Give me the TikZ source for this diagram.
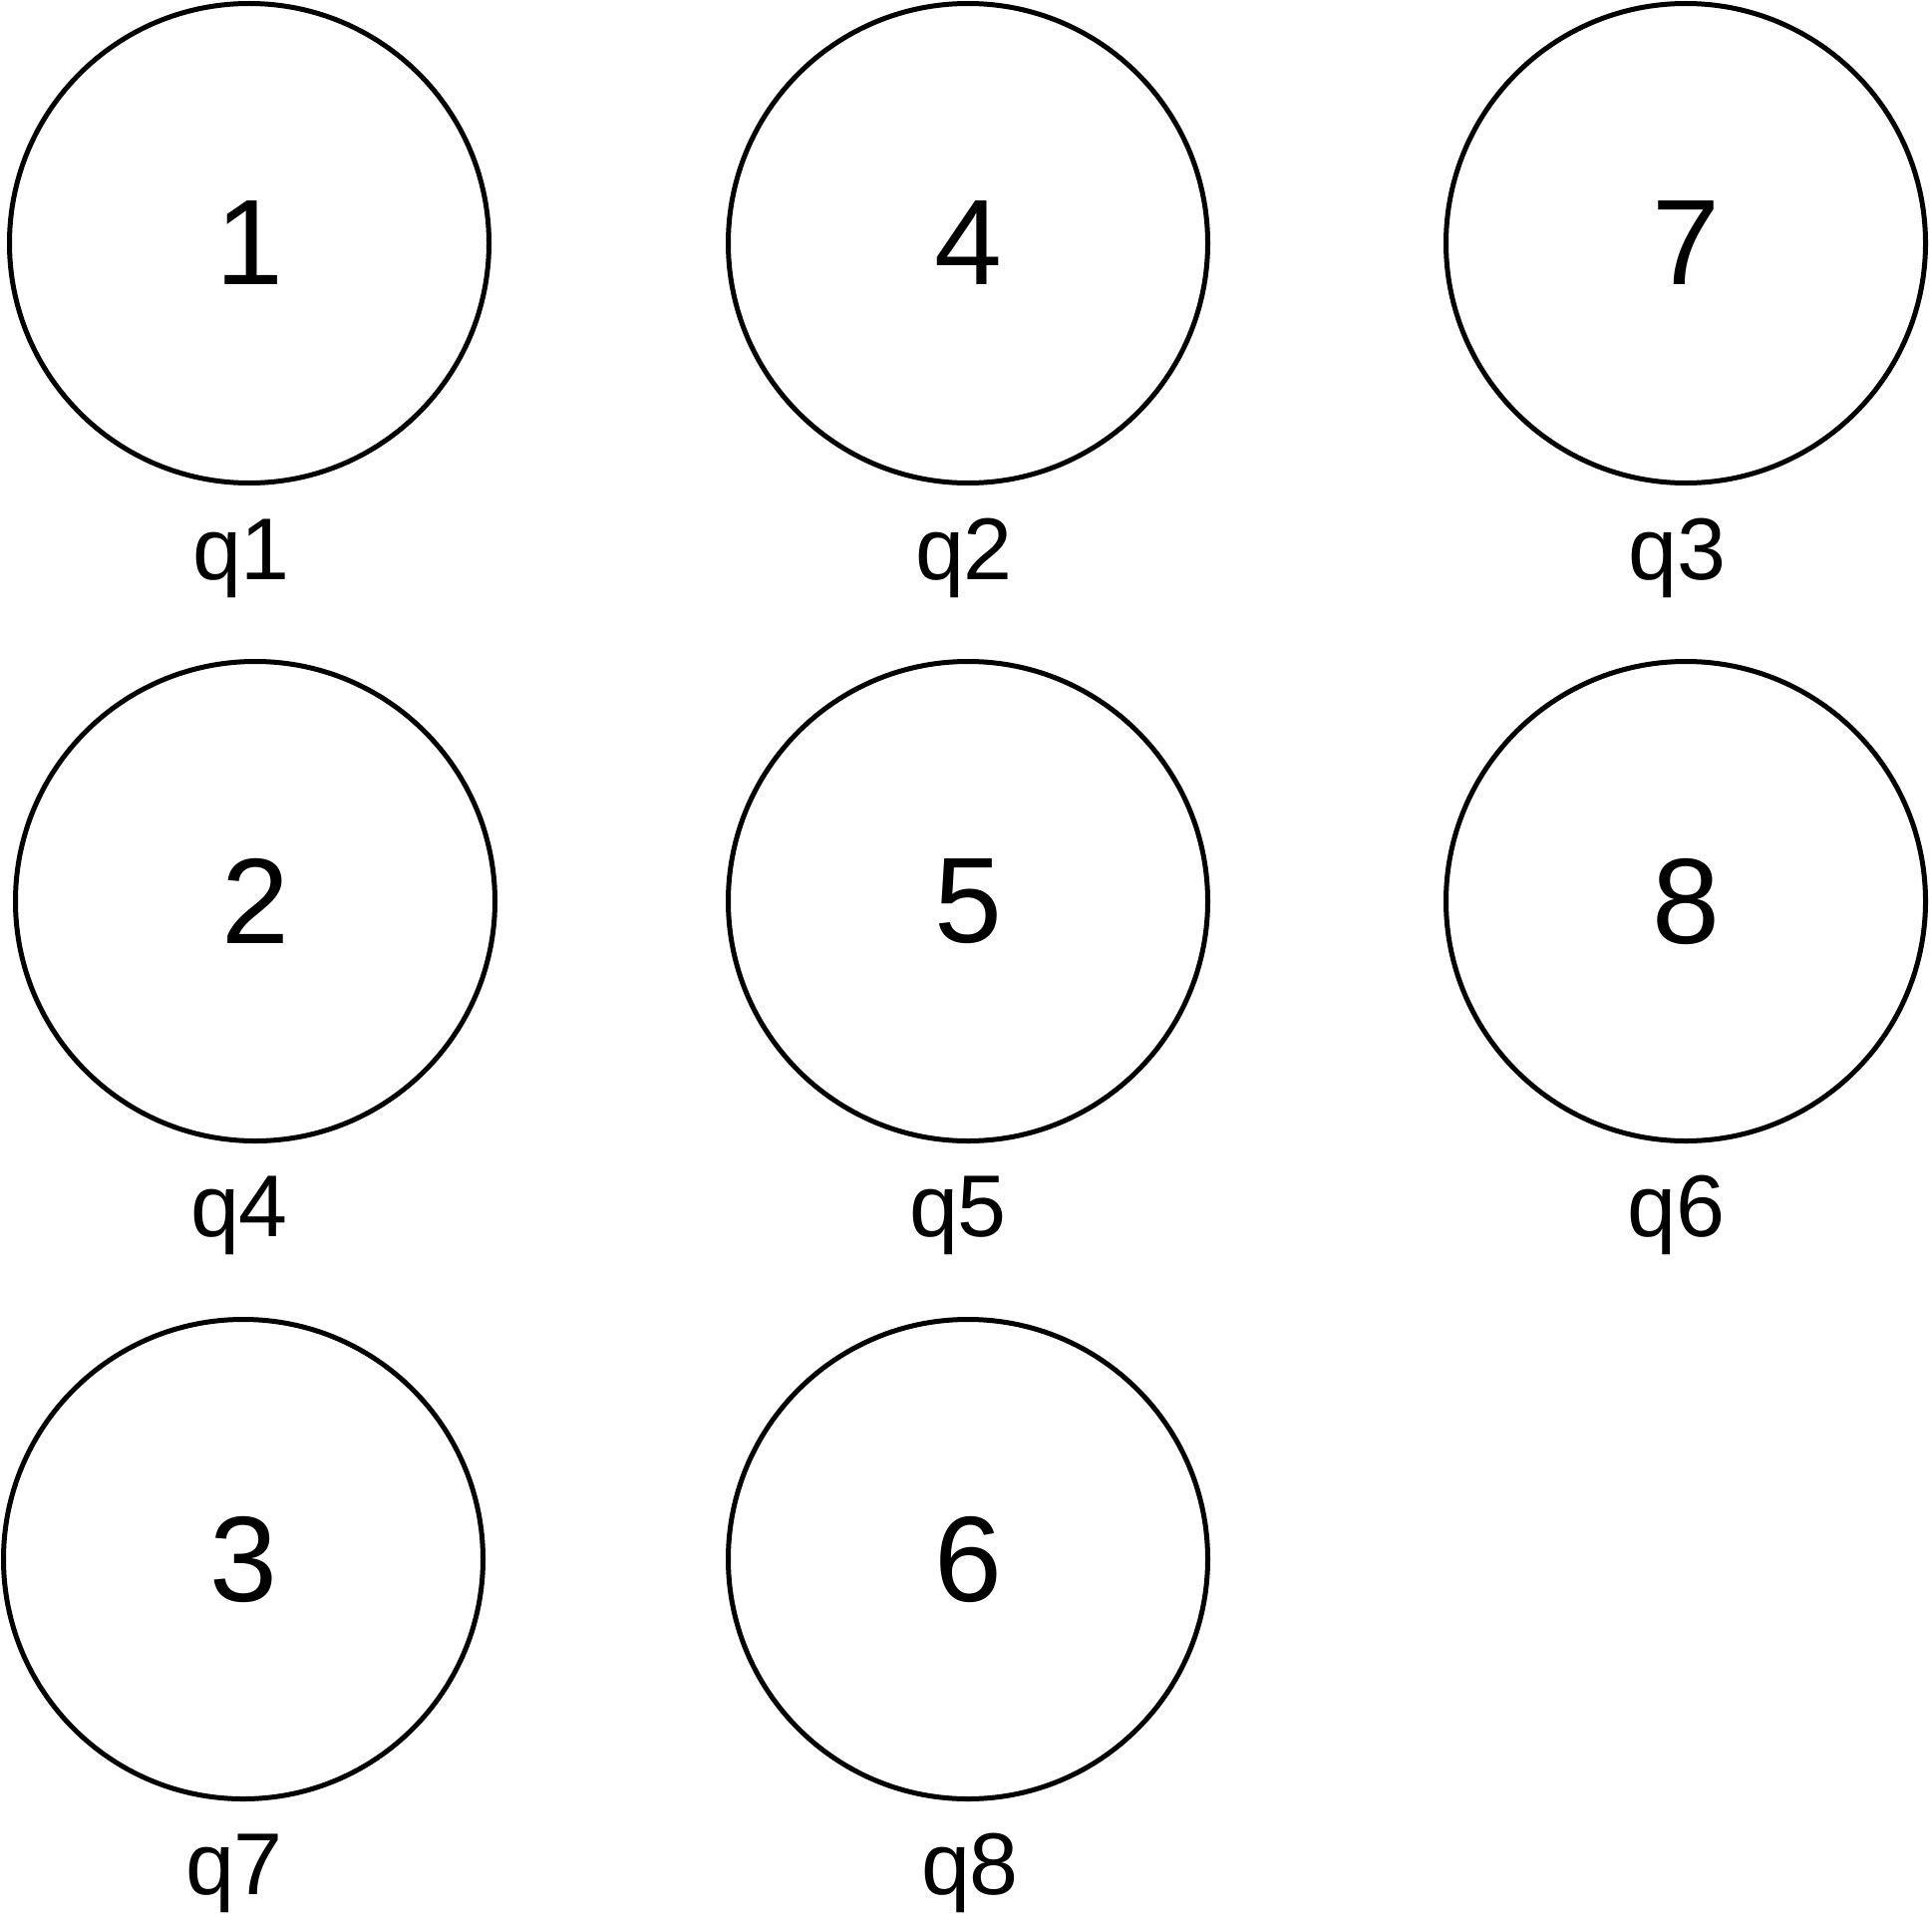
\documentclass[tikz,border=0pt]{standalone}
\usepackage{fontspec}
\setmainfont{Liberation Sans}
\usepackage{tikz}

\begin{document}
\begin{tikzpicture}[
    x=0.5pt, y=-0.5pt,
    cell/.style={draw,circle,line width=2.5pt,minimum size=240.5pt,inner sep=0pt,font=\fontsize{61}{70}\selectfont},
    tag/.style={anchor=base,inner sep=0pt,font=\fontsize{44}{50}\selectfont}
    ]
    \useasboundingbox (0,0) rectangle (1938,1932);
    \node[cell] (c1) at (250,244) {1};
    \node[cell] (c4) at (971,244) {4};
    \node[cell] (c7) at (1691,244) {7};
    \node[cell] (c2) at (256,904) {2};
    \node[cell] (c5) at (971,904) {5};
    \node[cell] (c8) at (1691,904) {8};
    \node[cell] (c3) at (244,1564) {3};
    \node[cell] (c6) at (971,1564) {6};
    \node[tag] (q1) at (242,581) {q1};
    \node[tag] (q2) at (967,581) {q2};
    \node[tag] (q3) at (1682,581) {q3};
    \node[tag] (q4) at (240,1240) {q4};
    \node[tag] (q5) at (961,1240) {q5};
    \node[tag] (q6) at (1681,1240) {q6};
    \node[tag] (q7) at (235,1900) {q7};
    \node[tag] (q8) at (973,1900) {q8};
\end{tikzpicture}
\end{document}
